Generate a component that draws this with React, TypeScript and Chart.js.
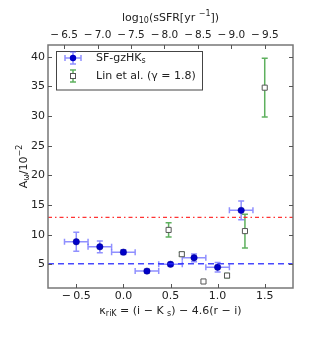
import React, { useEffect, useRef } from "react";
import { Chart, registerables } from "chart.js";

Chart.register(...registerables);

// ---- data ----
const sfKappa = [-0.5, -0.25, 0.0, 0.25, 0.5, 0.75, 1.0, 1.25];
const sfKappaErr = [0.125, 0.125, 0.125, 0.125, 0.125, 0.125, 0.125, 0.125];
const sfA = [8.8, 7.95, 7.05, 3.85, 5.0, 6.1, 4.5, 14.1];
const sfAErr = [1.6, 1.0, 0.4, 0.3, 0.3, 0.65, 0.8, 1.6];

const linKappa = [0.48, 0.62, 0.85, 1.1, 1.29, 1.5];
const linA = [10.8, 6.7, 2.1, 3.1, 10.6, 34.8];
const linAErr = [1.2, 0.35, 0.0, 0.35, 2.85, 4.95];

const blueLevel = 5.1;
const redLevel = 12.9;

const xLimits = [-0.8, 1.8];
const yLimits = [1, 42];
const topLimits = [-9.92, -6.26];

const legendLabels = ["SF-gzHK", "Lin et al. (γ = 1.8)"];

const FONT = "'DejaVu Sans', sans-serif";
const TXT = "#222";
const SPINE = "#777";
const BLUE_ERR = "rgba(70,70,255,0.6)";
const BLUE_PT = "#0000c8";
const GREEN_ERR = "rgba(40,150,40,0.75)";

type Seg = { t: string; s?: "sub" | "sup" };

function drawRich(ctx: CanvasRenderingContext2D, segs: Seg[], size: number) {
  const small = Math.round(size * 0.72);
  let w = 0;
  for (const sg of segs) {
    ctx.font = `${sg.s ? small : size}px ${FONT}`;
    w += ctx.measureText(sg.t).width;
  }
  let x = -w / 2;
  ctx.textBaseline = "middle";
  ctx.textAlign = "left";
  for (const sg of segs) {
    ctx.font = `${sg.s ? small : size}px ${FONT}`;
    const dy = sg.s === "sub" ? size * 0.3 : sg.s === "sup" ? -size * 0.35 : 0;
    ctx.fillText(sg.t, x, dy);
    x += ctx.measureText(sg.t).width;
  }
}

function fmtTick(v: number) {
  return v < 0 ? "\u2212\u2009" + Math.abs(v).toFixed(1) : v.toFixed(1);
}

const decorPlugin = {
  id: "decor",
  beforeDatasetsDraw(chart: any) {
    const ctx = chart.ctx as CanvasRenderingContext2D;
    const xs = chart.scales.x;
    const ys = chart.scales.y;
    ctx.save();
    const cap = 3;
    // SF error bars
    ctx.strokeStyle = BLUE_ERR;
    ctx.lineWidth = 1.5;
    for (let i = 0; i < sfKappa.length; i++) {
      const x0 = xs.getPixelForValue(sfKappa[i] - sfKappaErr[i]);
      const x1 = xs.getPixelForValue(sfKappa[i] + sfKappaErr[i]);
      const y = ys.getPixelForValue(sfA[i]);
      const x = xs.getPixelForValue(sfKappa[i]);
      const y0 = ys.getPixelForValue(sfA[i] - sfAErr[i]);
      const y1 = ys.getPixelForValue(sfA[i] + sfAErr[i]);
      ctx.beginPath();
      ctx.moveTo(x0, y); ctx.lineTo(x1, y);
      ctx.moveTo(x0, y - cap); ctx.lineTo(x0, y + cap);
      ctx.moveTo(x1, y - cap); ctx.lineTo(x1, y + cap);
      ctx.moveTo(x, y0); ctx.lineTo(x, y1);
      ctx.moveTo(x - cap, y0); ctx.lineTo(x + cap, y0);
      ctx.moveTo(x - cap, y1); ctx.lineTo(x + cap, y1);
      ctx.stroke();
    }
    // Lin error bars
    ctx.strokeStyle = GREEN_ERR;
    for (let i = 0; i < linKappa.length; i++) {
      if (linAErr[i] <= 0) continue;
      const x = xs.getPixelForValue(linKappa[i]);
      const y0 = ys.getPixelForValue(linA[i] - linAErr[i]);
      const y1 = ys.getPixelForValue(linA[i] + linAErr[i]);
      ctx.beginPath();
      ctx.moveTo(x, y0); ctx.lineTo(x, y1);
      ctx.moveTo(x - cap, y0); ctx.lineTo(x + cap, y0);
      ctx.moveTo(x - cap, y1); ctx.lineTo(x + cap, y1);
      ctx.stroke();
    }
    ctx.restore();
  },
  afterDraw(chart: any) {
    const ctx = chart.ctx as CanvasRenderingContext2D;
    const a = chart.chartArea;
    ctx.save();
    // frame
    ctx.strokeStyle = SPINE;
    ctx.lineWidth = 1.5;
    ctx.strokeRect(a.left, a.top, a.right - a.left, a.bottom - a.top);
    // inward ticks
    ctx.lineWidth = 1;
    ctx.strokeStyle = "#555";
    const tl = 4;
    ctx.beginPath();
    for (const t of chart.scales.x.ticks) {
      const px = Math.round(chart.scales.x.getPixelForValue(t.value)) + 0.5;
      ctx.moveTo(px, a.bottom); ctx.lineTo(px, a.bottom - tl);
    }
    for (const t of chart.scales.x2.ticks) {
      const px = Math.round(chart.scales.x2.getPixelForValue(t.value)) + 0.5;
      ctx.moveTo(px, a.top); ctx.lineTo(px, a.top + tl);
    }
    for (const t of chart.scales.y.ticks) {
      const py = Math.round(chart.scales.y.getPixelForValue(t.value)) + 0.5;
      ctx.moveTo(a.left, py); ctx.lineTo(a.left + tl, py);
      ctx.moveTo(a.right, py); ctx.lineTo(a.right - tl, py);
    }
    ctx.stroke();

    // titles
    ctx.fillStyle = TXT;
    const cx = (a.left + a.right) / 2;
    ctx.save();
    ctx.translate(cx, 311);
    drawRich(ctx, [
      { t: "κ" }, { t: "riK", s: "sub" }, { t: " = (i \u2212 K " }, { t: "s", s: "sub" },
      { t: ") \u2212 4.6(r \u2212 i)" },
    ], 11);
    ctx.restore();
    ctx.save();
    ctx.translate(cx, 18);
    drawRich(ctx, [
      { t: "log" }, { t: "10", s: "sub" }, { t: "(sSFR[yr " }, { t: "\u22121", s: "sup" }, { t: "])" },
    ], 11);
    ctx.restore();
    ctx.save();
    ctx.translate(24, (a.top + a.bottom) / 2);
    ctx.rotate(-Math.PI / 2);
    drawRich(ctx, [{ t: "A" }, { t: "ω", s: "sub" }, { t: "/10" }, { t: "\u22122", s: "sup" }], 11);
    ctx.restore();

    // legend
    const lx = 56, ly = 51, lw = 146, lh = 38.5;
    ctx.fillStyle = "#fff";
    ctx.fillRect(lx, ly, lw, lh);
    ctx.strokeStyle = "#444";
    ctx.lineWidth = 1;
    ctx.strokeRect(lx + 0.5, ly + 0.5, lw, lh);
    const mx = 73;
    const r1 = 58, r2 = 76;
    // blue marker
    ctx.strokeStyle = BLUE_ERR;
    ctx.lineWidth = 1.5;
    ctx.beginPath();
    ctx.moveTo(mx - 8, r1); ctx.lineTo(mx + 8, r1);
    ctx.moveTo(mx - 8, r1 - 3); ctx.lineTo(mx - 8, r1 + 3);
    ctx.moveTo(mx + 8, r1 - 3); ctx.lineTo(mx + 8, r1 + 3);
    ctx.moveTo(mx, r1 - 6); ctx.lineTo(mx, r1 + 6);
    ctx.moveTo(mx - 3, r1 - 6); ctx.lineTo(mx + 3, r1 - 6);
    ctx.moveTo(mx - 3, r1 + 6); ctx.lineTo(mx + 3, r1 + 6);
    ctx.stroke();
    ctx.fillStyle = BLUE_PT;
    ctx.beginPath();
    ctx.arc(mx, r1, 3.2, 0, Math.PI * 2);
    ctx.fill();
    // green marker
    ctx.strokeStyle = GREEN_ERR;
    ctx.beginPath();
    ctx.moveTo(mx, r2 - 6); ctx.lineTo(mx, r2 + 6);
    ctx.moveTo(mx - 3, r2 - 6); ctx.lineTo(mx + 3, r2 - 6);
    ctx.moveTo(mx - 3, r2 + 6); ctx.lineTo(mx + 3, r2 + 6);
    ctx.stroke();
    ctx.fillStyle = "#fff";
    ctx.strokeStyle = "#555";
    ctx.lineWidth = 1;
    ctx.fillRect(mx - 2.5, r2 - 2.5, 5, 5);
    ctx.strokeRect(mx - 2.5, r2 - 2.5, 5, 5);
    // text
    ctx.fillStyle = TXT;
    ctx.save();
    ctx.translate(96, r1);
    ctx.textAlign = "left";
    let x = 0;
    ctx.font = `11px ${FONT}`;
    ctx.textBaseline = "middle";
    ctx.fillText(legendLabels[0], 0, 0);
    x = ctx.measureText(legendLabels[0]).width;
    ctx.font = `8px ${FONT}`;
    ctx.fillText("s", x, 3);
    ctx.restore();
    ctx.font = `11px ${FONT}`;
    ctx.textBaseline = "middle";
    ctx.textAlign = "left";
    ctx.fillText(legendLabels[1], 96, r2);
    ctx.restore();
  },
};

export default function App() {
  const ref = useRef<HTMLCanvasElement>(null);
  useEffect(() => {
    const canvas = ref.current!;
    const chart = new Chart(canvas, {
      type: "scatter",
      data: {
        datasets: [
          {
            type: "line",
            label: "blue level",
            data: [{ x: xLimits[0], y: blueLevel }, { x: xLimits[1], y: blueLevel }],
            borderColor: "rgba(40,40,255,0.85)",
            borderDash: [6, 4],
            borderWidth: 1.5,
            pointRadius: 0,
            xAxisID: "x",
            yAxisID: "y",
          } as any,
          {
            type: "line",
            label: "red level",
            data: [{ x: xLimits[0], y: redLevel }, { x: xLimits[1], y: redLevel }],
            borderColor: "rgba(255,30,30,0.9)",
            borderDash: [4, 3, 1.5, 3],
            borderWidth: 1.2,
            pointRadius: 0,
            xAxisID: "x",
            yAxisID: "y",
          } as any,
          {
            label: "SF-gzHKs",
            data: sfKappa.map((k, i) => ({ x: k, y: sfA[i] })),
            backgroundColor: BLUE_PT,
            borderColor: "#00008b",
            borderWidth: 0.5,
            pointRadius: 3.2,
            pointStyle: "circle",
            xAxisID: "x",
            yAxisID: "y",
          },
          {
            label: "Lin et al. (γ = 1.8)",
            data: linKappa.map((k, i) => ({ x: k, y: linA[i] })),
            backgroundColor: "#fff",
            borderColor: "#555",
            borderWidth: 1,
            pointRadius: 3.6,
            pointStyle: "rect",
            xAxisID: "x",
            yAxisID: "y",
          },
        ],
      },
      options: {
        responsive: false,
        animation: false,
        devicePixelRatio: 1,
        layout: { padding: { left: 0, right: 31, top: 0, bottom: 0 } },
        plugins: { legend: { display: false }, tooltip: { enabled: false } },
        scales: {
          x: {
            type: "linear",
            position: "bottom",
            min: xLimits[0],
            max: xLimits[1],
            grid: { display: false, drawTicks: false },
            border: { display: false },
            ticks: {
              stepSize: 0.5,
              includeBounds: false,
              padding: 2,
              color: TXT,
              font: { family: FONT, size: 11 },
              maxRotation: 0,
              callback: (v: any) => fmtTick(Number(v)),
            },
            afterFit: (s: any) => { s.height = 52; },
          },
          x2: {
            type: "linear",
            position: "top",
            min: topLimits[0],
            max: topLimits[1],
            reverse: true,
            grid: { display: false, drawTicks: false },
            border: { display: false },
            ticks: {
              stepSize: 0.5,
              includeBounds: false,
              padding: 3,
              color: TXT,
              font: { family: FONT, size: 10.5 },
              maxRotation: 0,
              autoSkip: false,
              callback: (v: any) => fmtTick(Number(v)),
            },
            afterFit: (s: any) => { s.height = 45; },
          },
          y: {
            type: "linear",
            position: "left",
            min: yLimits[0],
            max: yLimits[1],
            grid: { display: false, drawTicks: false },
            border: { display: false },
            ticks: {
              stepSize: 5,
              includeBounds: false,
              padding: 3,
              color: TXT,
              font: { family: FONT, size: 11 },
              callback: (v: any) => String(v),
            },
            afterFit: (s: any) => { s.width = 48; },
          },
        },
      } as any,
      plugins: [decorPlugin],
    });
    return () => chart.destroy();
  }, []);
  return (
    <div style={{ position: "absolute", left: 0, top: 0, width: 324, height: 340, background: "#fff" }}>
      <canvas ref={ref} width={324} height={340} style={{ width: 324, height: 340 }} />
    </div>
  );
}
